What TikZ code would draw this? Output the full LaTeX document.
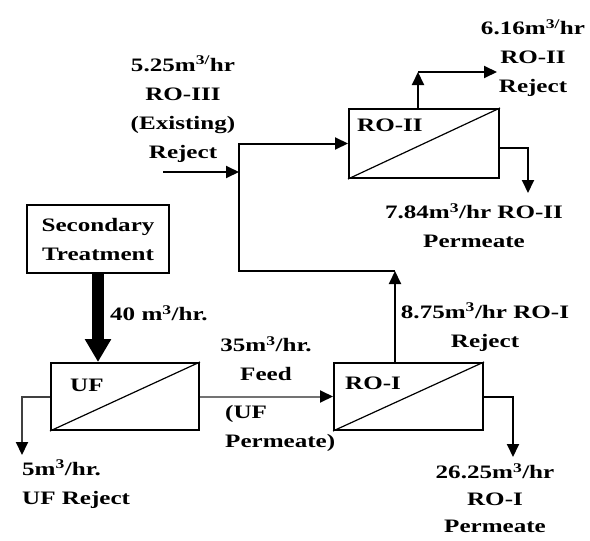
\documentclass[tikz,border=0pt]{standalone}
\usepackage{fontspec}
\setmainfont{Liberation Serif}[FakeStretch=1.32]
\usetikzlibrary{arrows.meta}
\begin{document}
\begin{tikzpicture}[x=1pt,y=-1pt,
  box/.style={draw,line width=2pt,inner sep=0pt},
  diag/.style={line width=1.2pt},
  lbl/.style={font=\fontsize{19}{29}\selectfont\bfseries, inner sep=0pt, align=center},
  flow/.style={line width=2pt,-{Triangle[length=13pt,width=12pt,color=black]}},
  greyflow/.style={flow,draw=black!55}]
\useasboundingbox (0,0) rectangle (590,541);

% boxes
\node[box, minimum width=142pt, minimum height=68pt, font=\fontsize{19}{29}\selectfont\bfseries, align=center] (sec) at (98,239) {Secondary\\Treatment};
\node[box, minimum width=148pt, minimum height=67pt] (uf) at (125,396.5) {};
\node[box, minimum width=149pt, minimum height=67pt] (ro1) at (408.5,396.5) {};
\node[box, minimum width=150pt, minimum height=69pt] (ro2) at (424,143.5) {};
\draw[diag] (uf.south west) -- (uf.north east);
\draw[diag] (ro1.south west) -- (ro1.north east);
\draw[diag] (ro2.south west) -- (ro2.north east);
\node[lbl, anchor=west] (ufl) at (70,385) {UF};
\node[lbl, anchor=west] (ro1l) at (345,383) {RO-I};
\node[lbl, anchor=west] (ro2l) at (357,125) {RO-II};

% coordinates
\coordinate (ufr) at (22,455);
\coordinate (ro1p) at (513,457);
\coordinate (c1) at (395,271);
\coordinate (c2) at (239,271);
\coordinate (r3) at (163,172);
\coordinate (j) at (239,172);
\coordinate (c3) at (418,72);
\coordinate (c4) at (497,72);
\coordinate (ro2p) at (528,193);

% connectors
\draw[line width=12pt,-{Triangle[length=23pt,width=25pt]}] (sec.south) -- (sec.south |- uf.north);
\draw[greyflow] (uf.east) -- (ro1.west);
\draw[flow,draw=black!75] (uf.west) -| (ufr);
\draw[flow] (ro1.east) -| (ro1p);
\draw[flow] (ro1.north -| c1) -- (c1);
\draw[flow] (c1) -- (c2) |- (ro2.west);
\draw[flow] (r3) -- (j);
\draw[flow] (ro2.north -| c3) -- (c3);
\draw[flow] (c3) -- (c4);
\draw[flow] ([yshift=-4.5pt]ro2.east) -| (ro2p);

% labels
\node[lbl] (t1) at (183,109) {5.25m\textsuperscript{3/}hr\\RO-III\\(Existing)\\Reject};
\node[lbl] (t2) at (533,58) {6.16m\textsuperscript{3/}hr\\RO-II\\Reject};
\node[lbl] (t3) at (474,226) {7.84m\textsuperscript{3}/hr RO-II\\Permeate};
\node[lbl, anchor=west] (t4) at (110,313) {40 m\textsuperscript{3}/hr.};
\node[lbl] (t5) at (266,359) {35m\textsuperscript{3}/hr.\\Feed};
\node[lbl, align=left, anchor=west] (t6) at (225,428) {(UF\\Permeate)};
\node[lbl] (t7) at (485,327) {8.75m\textsuperscript{3}/hr RO-I\\Reject};
\node[lbl, font=\fontsize{19}{27}\selectfont\bfseries] (t8) at (495,498) {26.25m\textsuperscript{3}/hr\\RO-I\\Permeate};
\node[lbl, align=left, anchor=west] (t9) at (22,484) {5m\textsuperscript{3}/hr.\\UF Reject};
\end{tikzpicture}
\end{document}
